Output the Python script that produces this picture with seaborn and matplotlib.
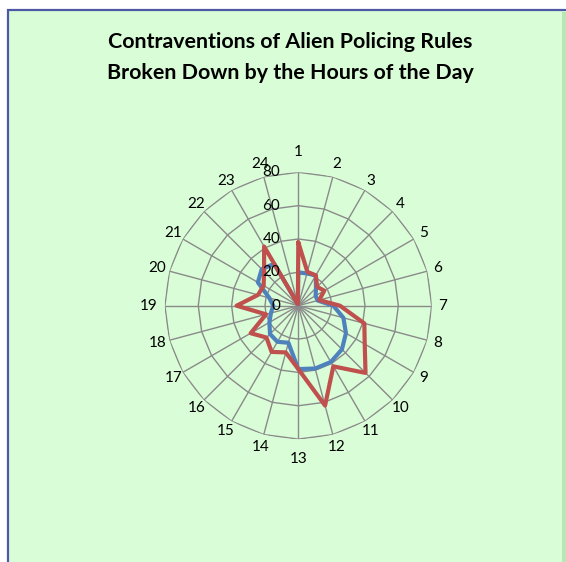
import numpy as np
import pandas as pd
import matplotlib
matplotlib.use("Agg")
import matplotlib.pyplot as plt
from matplotlib.patches import Rectangle
import seaborn as sns

# Data (values per hour of the day)
hours = [str(h) for h in range(1, 25)]
series_blue = [20, 20, 21, 15, 12, 12, 21, 28, 33, 37, 39, 39,
               38, 23, 25, 24, 20, 17, 15, 18, 28, 31, 29, 1]
series_red = [38, 21, 21, 16, 18, 13, 25, 41, 46, 57, 42, 62,
              38, 29, 32, 27, 33, 20, 37, 25, 24, 29, 41, 1]
radial_ticks = [0, 20, 40, 60, 80]
title_lines = ["Contraventions of Alien Policing Rules",
               "Broken Down by the Hours of the Day"]

BG = "#d9fdd6"
BORDER = "#4c5aa6"
GRID = "#8a8a8a"
BLUE = "#4f81bd"
RED = "#c0504d"

sns.set_style("white")
plt.rcParams["font.family"] = ["Lato", "DejaVu Sans"]
plt.rcParams["text.color"] = "black"

W, H = 566, 562
fig = plt.figure(figsize=(W / 100, H / 100), dpi=100)
fig.patch.set_facecolor("white")

# chart area panel (green with blue border on top / left)
fig.patches.append(Rectangle((8 / W, -0.05), 1.1, 1 - 10 / H + 0.05,
                             transform=fig.transFigure, facecolor=BG,
                             edgecolor=BORDER, lw=1.6, zorder=-10))
fig.patches.append(Rectangle((562 / W, 0), 4 / W, 1 - 11.5 / H,
                             transform=fig.transFigure, facecolor="#b9e6b6",
                             edgecolor="none", zorder=-9))

# title
fig.text(290 / W, 1 - 48.3 / H, title_lines[0], ha="center", va="baseline",
         fontsize=15.4, fontweight="bold", color="black")
fig.text(290 / W, 1 - 79.3 / H, title_lines[1], ha="center", va="baseline",
         fontsize=15.4, fontweight="bold", color="black")

# polar axes placed so the plot centre / radius match the reference
cx, cy, R = 298.3, 305.7, 133.4
ax = fig.add_axes([(cx - R) / W, (H - cy - R) / H, 2 * R / W, 2 * R / H],
                  projection="polar")
ax.set_theta_zero_location("N")
ax.set_theta_direction(-1)
ax.set_ylim(0, 80)
ax.patch.set_alpha(0)
ax.spines["polar"].set_visible(False)
ax.grid(False)
ax.set_xticks([])
ax.set_yticks([])

n = len(hours)
theta = np.arange(n) * 2 * np.pi / n
theta_closed = np.append(theta, 2 * np.pi)

# polygon gridlines and spokes
for r in radial_ticks[1:]:
    ax.plot(theta_closed, [r] * (n + 1), color=GRID, lw=1.0, zorder=1)
for t in theta:
    ax.plot([t, t], [0, 80], color=GRID, lw=1.0, zorder=1)

# data series
df = pd.DataFrame({
    "theta": np.concatenate([theta_closed, theta_closed]),
    "value": series_blue + series_blue[:1] + series_red + series_red[:1],
    "series": ["Series1"] * (n + 1) + ["Series2"] * (n + 1),
})
sns.lineplot(data=df, x="theta", y="value", hue="series",
             hue_order=["Series1", "Series2"], palette=[BLUE, RED],
             sort=False, estimator=None, legend=False, lw=3.0, ax=ax,
             zorder=3)
ax.set_xlabel("")
ax.set_ylabel("")

# hour labels around the outside
for t, lab in zip(theta, hours):
    s, c = np.sin(t), np.cos(t)
    d = 11 + 9 * abs(c) ** 40 + 5 * (len(lab) - 1) * abs(s) ** 40
    ax.annotate(lab, xy=(t, 80), xytext=(d * s, d * c),
                textcoords="offset pixels", ha="center", va="center",
                fontsize=11, annotation_clip=False, color="black")

# radial value labels along the top spoke
for r in radial_ticks:
    ax.annotate(str(r), xy=(0, r), xytext=(-18, 0),
                textcoords="offset pixels", ha="right", va="center",
                fontsize=11, annotation_clip=False, zorder=4, color="black")

fig.savefig("out.png", dpi=100)
